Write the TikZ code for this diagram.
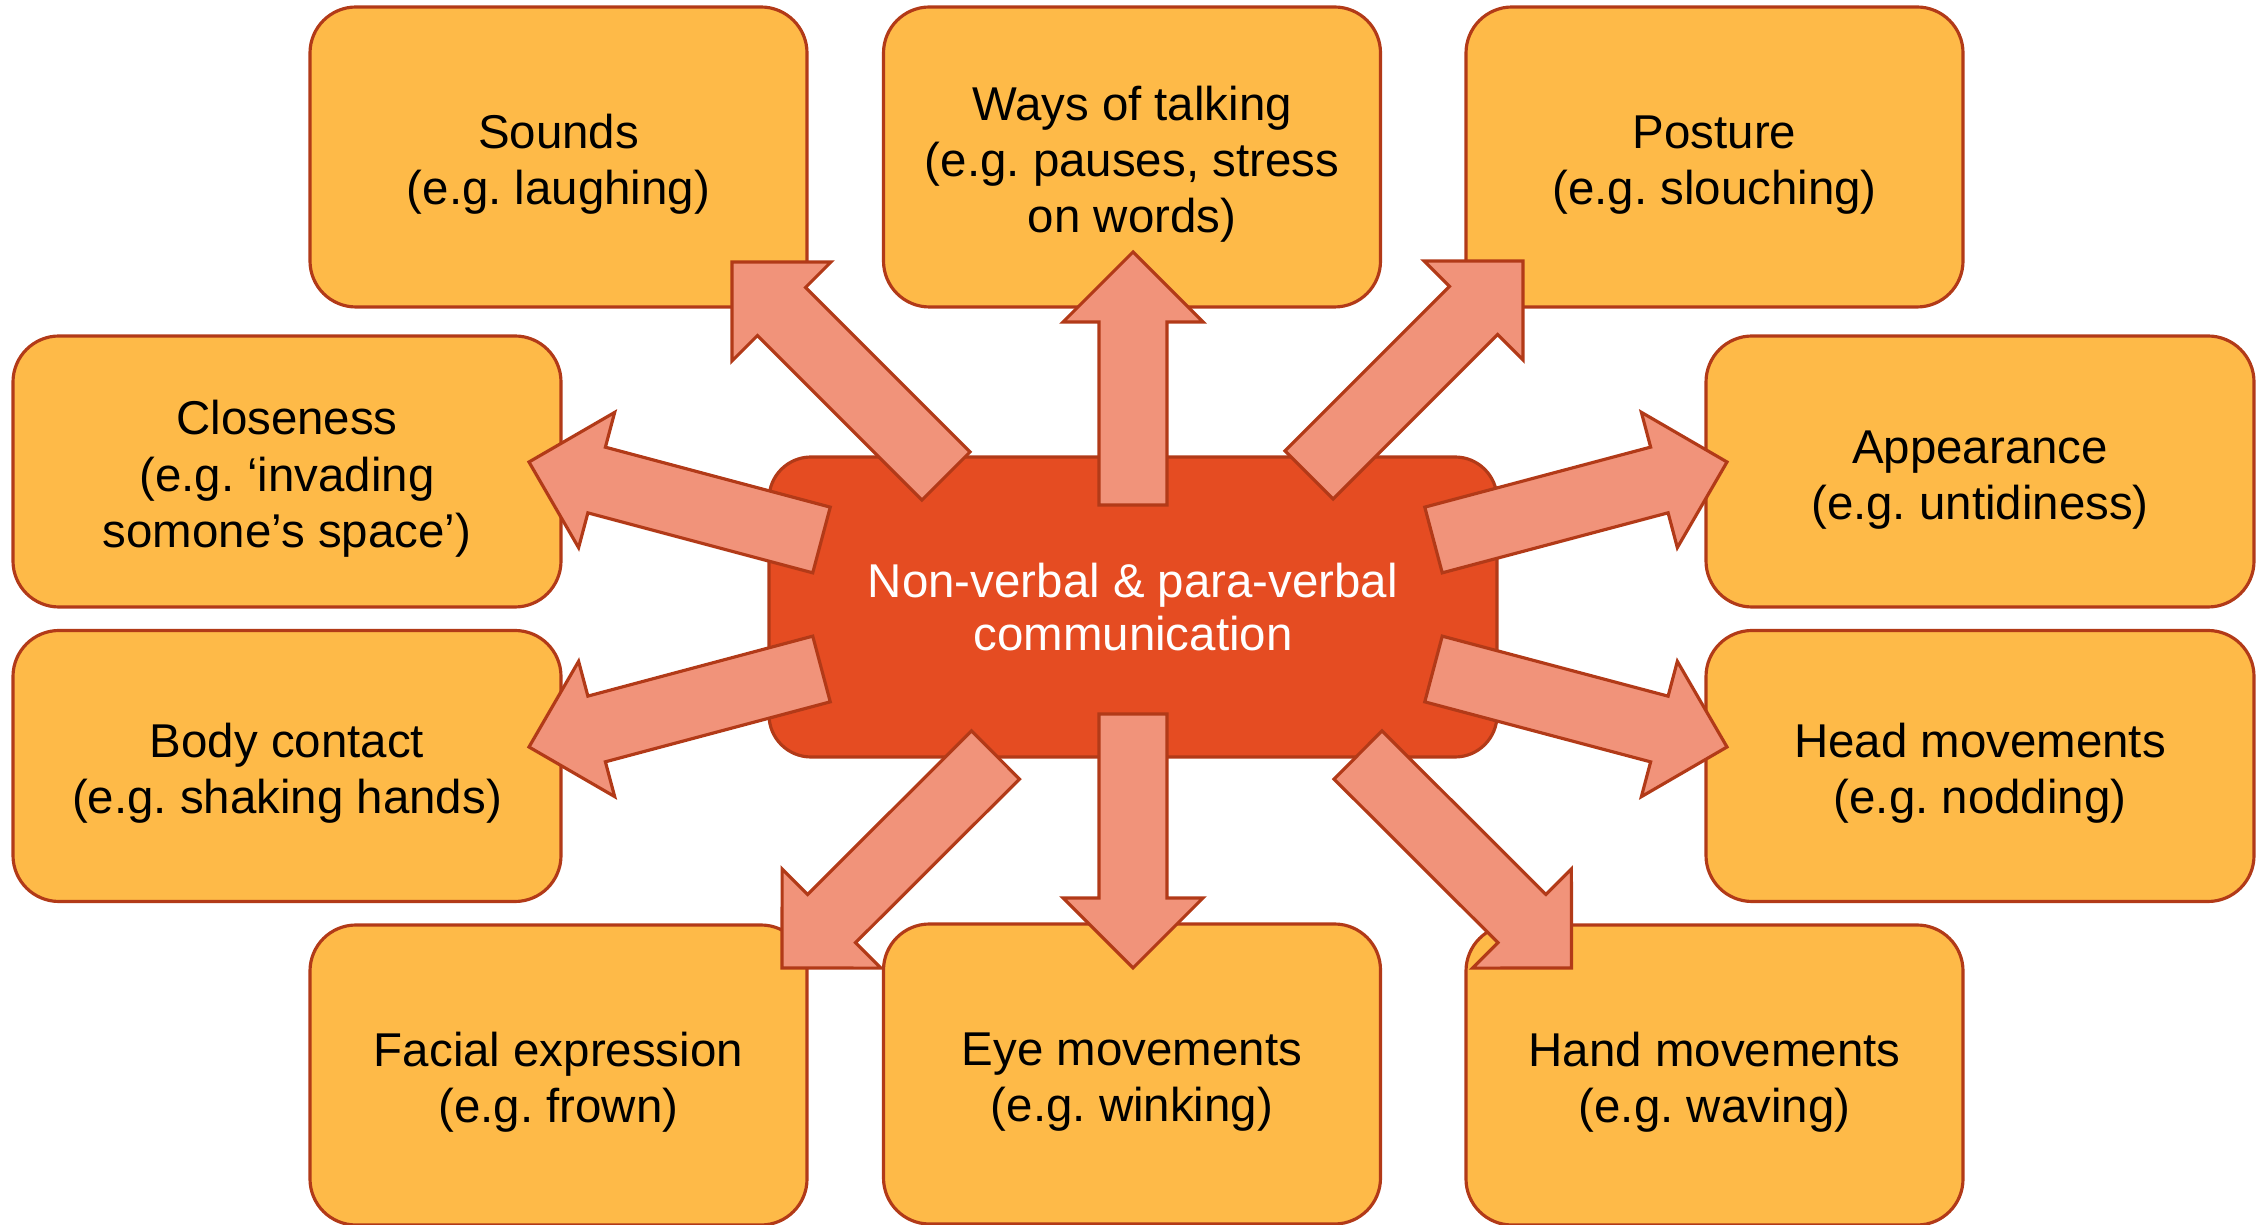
\documentclass[tikz,border=0pt]{standalone}
\usepackage{fontspec}
\setmainfont{Liberation Sans}
\frenchspacing
\definecolor{boxOrange}{RGB}{254, 186, 72}
\definecolor{edgeRust}{RGB}{178, 58, 24}
\definecolor{arrowSalmon}{RGB}{241, 147, 122}
\definecolor{hubRed}{RGB}{229, 76, 34}
\usepackage{tikz}
\usetikzlibrary{calc}

% extra room above the first line, so the text sits a little lower
\newcommand{\topgap}{\rule{0pt}{14pt}}

% block arrow from a tail coordinate to a tip coordinate
\newcommand{\fatarrow}[2]{%
  \coordinate (#2-base) at ($(#2)!0.7cm!(#1)$);
  \filldraw[fatarrow] ($(#1)!0.34cm!90:(#2)$) -- ($(#2-base)!0.34cm!-90:(#1)$)
    -- ($(#2-base)!0.7cm!-90:(#1)$) -- (#2)
    -- ($(#2-base)!0.7cm!90:(#1)$) -- ($(#2-base)!0.34cm!90:(#1)$)
    -- ($(#1)!0.34cm!-90:(#2)$) -- cycle;
}

\begin{document}
\begin{tikzpicture}[
    cue/.style={draw=edgeRust, fill=boxOrange, line width=0.9pt, rounded corners=0.46cm,
      align=center, inner sep=0pt, font=\fontsize{13.5}{16}\selectfont},
    hub/.style={draw=edgeRust, fill=hubRed, line width=0.9pt, rounded corners=0.42cm,
      align=center, inner sep=0pt, text=white, font=\fontsize{13.5}{15}\selectfont,
      minimum width=7.28cm, minimum height=3.0cm},
    narrow/.style={cue, minimum width=4.97cm, minimum height=3.0cm},
    wide/.style={cue, minimum width=5.48cm, minimum height=2.71cm},
    fatarrow/.style={draw=edgeRust, fill=arrowSalmon, line width=0.9pt, line join=miter}
  ]
  \useasboundingbox (0,0) rectangle (22.6,-12.25);

  % Top row
  \node[narrow] (sounds) at (5.585,-1.57) {\topgap Sounds\\(e.g. laughing)};
  \node[narrow] (talking) at (11.32,-1.57) {\topgap Ways of talking\\(e.g. pauses, stress\\on words)};
  \node[narrow] (posture) at (17.145,-1.57) {\topgap Posture\\(e.g. slouching)};

  % Sides
  \node[wide] (closeness) at (2.87,-4.715) {\topgap Closeness\\(e.g. ‘invading\\somone’s space’)};
  \node[wide] (appearance) at (19.80,-4.715) {\topgap Appearance\\(e.g. untidiness)};
  \node[wide] (contact) at (2.87,-7.66) {\topgap Body contact\\(e.g. shaking hands)};
  \node[wide] (headmove) at (19.80,-7.66) {\topgap Head movements\\(e.g. nodding)};

  % Bottom row
  \node[narrow] (facial) at (5.585,-10.75) {\topgap Facial expression\\(e.g. frown)};
  \node[narrow] (eyes) at (11.32,-10.74) {\topgap Eye movements\\(e.g. winking)};
  \node[narrow] (hands) at (17.145,-10.75) {\topgap Hand movements\\(e.g. waving)};

  % Centre
  \node[hub] (comm) at (11.33,-6.07) {Non-verbal \& para-verbal\\communication};

  % Arrow ends
  \coordinate (talkTail) at (11.33,-5.05);   \coordinate (talkTip) at (11.33,-2.52);
  \coordinate (eyeTail) at (11.33,-7.14);    \coordinate (eyeTip) at (11.33,-9.68);
  \coordinate (soundTail) at (9.46,-4.76);   \coordinate (soundTip) at (7.32,-2.62);
  \coordinate (postTail) at (13.09,-4.75);   \coordinate (postTip) at (15.23,-2.61);
  \coordinate (faceTail) at (9.955,-7.55);   \coordinate (faceTip) at (7.82,-9.68);
  \coordinate (handTail) at (13.58,-7.55);   \coordinate (handTip) at (15.715,-9.68);
  \coordinate (closeTail) at (8.215,-5.40);  \coordinate (closeTip) at (5.29,-4.62);
  \coordinate (contactTail) at (8.215,-6.69); \coordinate (contactTip) at (5.29,-7.47);
  \coordinate (lookTail) at (14.335,-5.40);  \coordinate (lookTip) at (17.27,-4.62);
  \coordinate (headTail) at (14.335,-6.69);  \coordinate (headTip) at (17.27,-7.47);

  % Arrows
  \foreach \nm in {talk, eye, sound, post, face, hand, close, contact, look, head} {
    \fatarrow{\nm Tail}{\nm Tip}
  }
\end{tikzpicture}
\end{document}
